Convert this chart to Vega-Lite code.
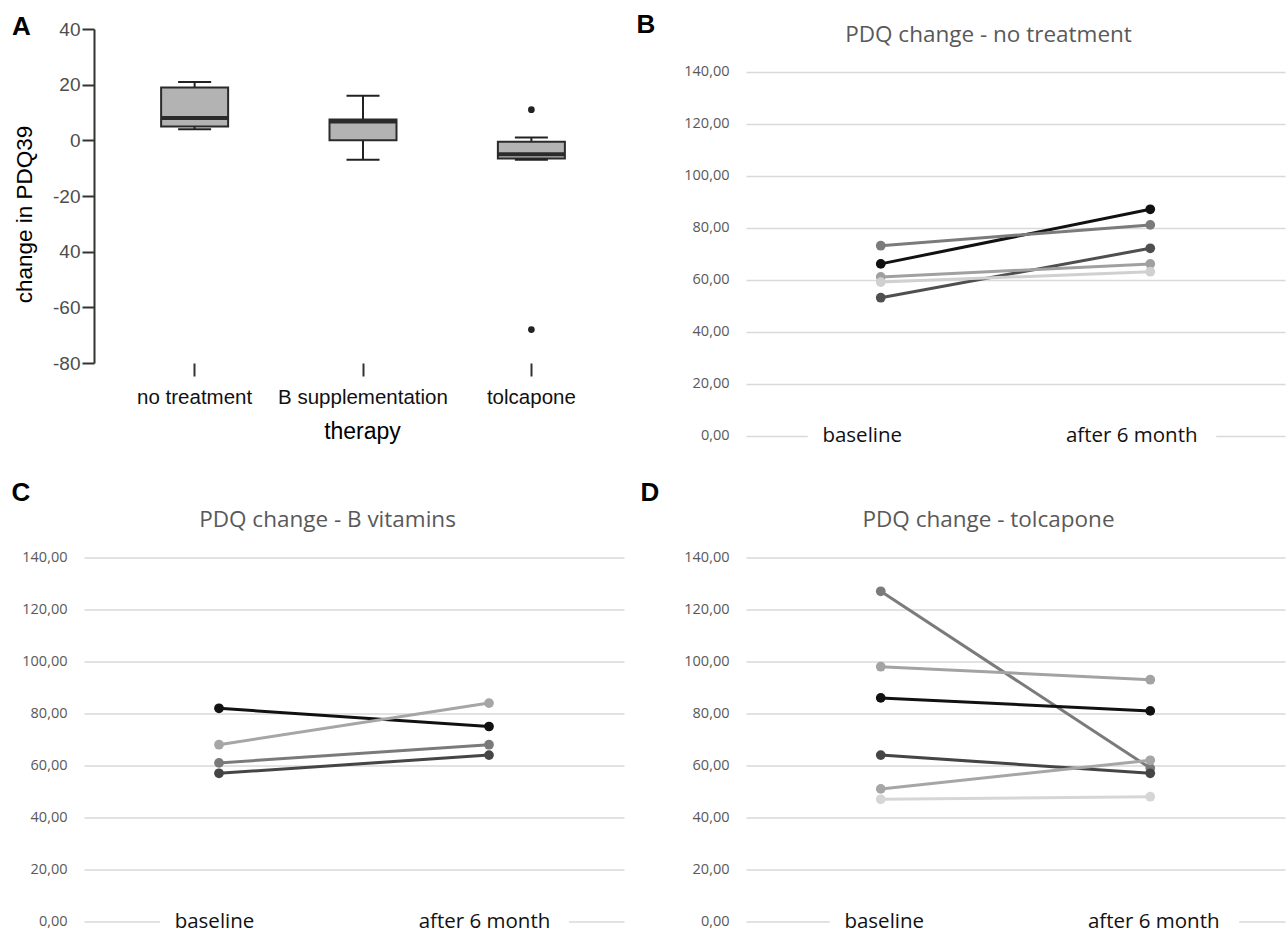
{
  "$schema": "https://vega.github.io/schema/vega-lite/v6.json",
  "background": "white",
  "padding": {"left": 11, "top": 11, "right": 2, "bottom": 2},
  "bounds": "flush",
  "columns": 2,
  "spacing": {"row": 121.5, "column": 104},
  "config": {"view": {"stroke": null}, "axis": {"labelOverlap": false}},
  "resolve": {"scale": {"x": "independent", "y": "independent", "color": "independent"}},
  "datasets": {
    "box": [
      {"therapy": "no treatment", "lower": 4, "q1": 5, "median": 8, "q3": 19, "upper": 21},
      {"therapy": "B supplementation", "lower": -7, "q1": 0, "median": 6.8, "q3": 7.5, "upper": 16},
      {"therapy": "tolcapone", "lower": -7, "q1": -6.5, "median": -5, "q3": -0.5, "upper": 1}
    ],
    "outliers": [
      {"therapy": "tolcapone", "value": 11},
      {"therapy": "tolcapone", "value": -68}
    ],
    "noTreatment": [
      {"patient": "nt1", "time": "baseline", "value": 66}, {"patient": "nt1", "time": "after 6 month", "value": 87},
      {"patient": "nt2", "time": "baseline", "value": 73}, {"patient": "nt2", "time": "after 6 month", "value": 81},
      {"patient": "nt3", "time": "baseline", "value": 53}, {"patient": "nt3", "time": "after 6 month", "value": 72},
      {"patient": "nt4", "time": "baseline", "value": 61}, {"patient": "nt4", "time": "after 6 month", "value": 66},
      {"patient": "nt5", "time": "baseline", "value": 59}, {"patient": "nt5", "time": "after 6 month", "value": 63}
    ],
    "bVitamins": [
      {"patient": "bv1", "time": "baseline", "value": 82}, {"patient": "bv1", "time": "after 6 month", "value": 75},
      {"patient": "bv2", "time": "baseline", "value": 68}, {"patient": "bv2", "time": "after 6 month", "value": 84},
      {"patient": "bv3", "time": "baseline", "value": 61}, {"patient": "bv3", "time": "after 6 month", "value": 68},
      {"patient": "bv4", "time": "baseline", "value": 57}, {"patient": "bv4", "time": "after 6 month", "value": 64}
    ],
    "tolcapone": [
      {"patient": "tc1", "time": "baseline", "value": 127}, {"patient": "tc1", "time": "after 6 month", "value": 59},
      {"patient": "tc2", "time": "baseline", "value": 98}, {"patient": "tc2", "time": "after 6 month", "value": 93},
      {"patient": "tc3", "time": "baseline", "value": 86}, {"patient": "tc3", "time": "after 6 month", "value": 81},
      {"patient": "tc4", "time": "baseline", "value": 64}, {"patient": "tc4", "time": "after 6 month", "value": 57},
      {"patient": "tc5", "time": "baseline", "value": 51}, {"patient": "tc5", "time": "after 6 month", "value": 62},
      {"patient": "tc6", "time": "baseline", "value": 47}, {"patient": "tc6", "time": "after 6 month", "value": 48}
    ]
  },
  "concat": [
    {
      "width": 558,
      "height": 334,
      "title": {"text": "A", "anchor": "start", "frame": "group", "dx": -72, "offset": -41, "baseline": "alphabetic", "font": "Liberation Sans", "fontSize": 26, "fontWeight": "bold", "color": "#000"},
      "encoding": {
        "x": {
          "field": "therapy", "type": "nominal",
          "sort": ["no treatment", "B supplementation", "tolcapone"],
          "scale": {"type": "band", "domain": ["no treatment", "B supplementation", "tolcapone"], "paddingInner": 0, "paddingOuter": 0.157},
          "axis": {
            "title": "therapy", "titleX": 278, "titleY": 68, "titleAlign": "center", "titleBaseline": "middle",
            "titleFont": "Liberation Sans", "titleFontSize": 23, "titleFontWeight": "normal", "titleColor": "#000",
            "domain": false, "ticks": true, "tickSize": 13, "tickWidth": 2, "tickColor": "#333",
            "labelPadding": 21, "labelBaseline": "middle", "labelAngle": 0,
            "labelFont": "Liberation Sans", "labelFontSize": 20.5, "labelColor": "#111"
          }
        }
      },
      "layer": [
        {
          "data": {"name": "box"},
          "mark": {"type": "rule", "color": "#222", "strokeWidth": 2},
          "encoding": {
            "y": {
              "field": "lower", "type": "quantitative", "title": "change in PDQ39",
              "scale": {"domain": [-80, 40], "nice": false, "zero": false},
              "axis": {
                "title": "change in PDQ39", "titleX": -70, "titleY": 185, "titleAngle": 270, "titleAlign": "center", "titleBaseline": "middle",
                "titleFont": "Liberation Sans", "titleFontSize": 22.5, "titleFontWeight": "normal", "titleColor": "#000",
                "offset": -10, "grid": false,
                "domainColor": "#333", "domainWidth": 2, "tickColor": "#333", "tickWidth": 2, "tickSize": 12,
                "labelPadding": 2, "labelFont": "Liberation Sans", "labelFontSize": 19, "labelColor": "#4d4d4d",
                "values": [-80, -60, -40, -20, 0, 20, 40],
                "labelExpr": "datum.value == -40 ? '40' : replace(datum.label, '\u2212', '-')"
              }
            },
            "y2": {"field": "upper"}
          }
        },
        {
          "data": {"name": "box"},
          "mark": {"type": "bar", "size": 67, "fill": "#b3b3b3", "stroke": "#2b2b2b", "strokeWidth": 2},
          "encoding": {
            "y": {"field": "q1", "type": "quantitative", "title": "change in PDQ39"},
            "y2": {"field": "q3"}
          }
        },
        {
          "data": {"name": "box"},
          "mark": {"type": "tick", "orient": "horizontal", "size": 67, "thickness": 4, "color": "#2b2b2b", "opacity": 1},
          "encoding": {"y": {"field": "median", "type": "quantitative", "title": "change in PDQ39"}}
        },
        {
          "data": {"name": "box"},
          "mark": {"type": "tick", "orient": "horizontal", "size": 33, "thickness": 2, "color": "#222", "opacity": 1},
          "encoding": {"y": {"field": "lower", "type": "quantitative", "title": "change in PDQ39"}}
        },
        {
          "data": {"name": "box"},
          "mark": {"type": "tick", "orient": "horizontal", "size": 33, "thickness": 2, "color": "#222", "opacity": 1},
          "encoding": {"y": {"field": "upper", "type": "quantitative", "title": "change in PDQ39"}}
        },
        {
          "data": {"name": "outliers"},
          "mark": {"type": "point", "filled": true, "size": 45, "color": "#222", "opacity": 1},
          "encoding": {"y": {"field": "value", "type": "quantitative", "title": "change in PDQ39"}}
        }
      ]
    },
    {
      "width": 539,
      "height": 406.5,
      "layer": [
        {
          "data": {"name": "noTreatment"},
          "mark": {"type": "line", "strokeWidth": 3, "point": {"filled": true, "size": 95, "opacity": 1}},
          "encoding": {
            "x": {
              "field": "time", "type": "nominal",
              "scale": {"type": "point", "domain": ["baseline", "after 6 month"], "padding": 0.5},
              "axis": {
                "title": "PDQ change - no treatment", "titleX": 242, "titleY": -401.5, "titleAlign": "center", "titleBaseline": "middle", "titleAngle": 0,
                "titleFont": "Open Sans", "titleFontSize": 22.5, "titleFontWeight": "normal", "titleColor": "#595959",
                "domain": false, "ticks": false, "tickSize": 0, "labelPadding": 0, "labelBaseline": "middle", "labelOffset": -19, "labelAngle": 0,
                "labelFont": "Open Sans", "labelFontSize": 20.5, "labelColor": "#111", "zindex": 1
              }
            },
            "y": {
              "field": "value", "type": "quantitative",
              "scale": {"domain": [0, 156.35], "nice": false, "zero": true},
              "axis": {
                "values": [0, 20, 40, 60, 80, 100, 120, 140], "grid": true, "gridColor": "#d9d9d9", "gridWidth": 1.5,
                "domain": false, "ticks": false, "tickSize": 0, "labelPadding": 17,
                "labelFont": "Open Sans", "labelFontSize": 14.5, "labelColor": "#595959",
                "labelExpr": "replace(format(datum.value, '.2f'), '.', ',')",
                "title": "B", "titleAngle": 0, "titleX": -110, "titleY": 3.6, "titleAlign": "left", "titleBaseline": "alphabetic",
                "titleFont": "Liberation Sans", "titleFontSize": 26, "titleFontWeight": "bold", "titleColor": "#000", "zindex": 0
              }
            },
            "color": {
              "field": "patient", "type": "nominal", "legend": null,
              "scale": {"domain": ["nt1", "nt2", "nt3", "nt4", "nt5"], "range": ["#111111", "#7b7b7b", "#4f4f4f", "#a0a0a0", "#d0d0d0"]}
            }
          }
        },
        {
          "data": {"values": [{}]},
          "mark": {"type": "rule", "color": "white", "strokeWidth": 6},
          "encoding": {"x": {"datum": "baseline"}, "x2": {"datum": "after 6 month"}, "y": {"datum": 0}}
        },
        {
          "data": {"values": [{}]},
          "mark": {"type": "tick", "orient": "horizontal", "color": "white", "size": 146, "thickness": 6, "opacity": 1},
          "encoding": {"x": {"datum": "baseline"}, "y": {"datum": 0}}
        },
        {
          "data": {"values": [{}]},
          "mark": {"type": "tick", "orient": "horizontal", "color": "white", "size": 132, "thickness": 6, "opacity": 1},
          "encoding": {"x": {"datum": "after 6 month"}, "y": {"datum": 0}}
        }
      ]
    },
    {
      "width": 540,
      "height": 364,
      "layer": [
        {
          "data": {"name": "bVitamins"},
          "mark": {"type": "line", "strokeWidth": 3, "point": {"filled": true, "size": 95, "opacity": 1}},
          "encoding": {
            "x": {
              "field": "time", "type": "nominal",
              "scale": {"type": "point", "domain": ["baseline", "after 6 month"], "padding": 0.5},
              "axis": {
                "title": "PDQ change - B vitamins", "titleX": 243, "titleY": -402, "titleAlign": "center", "titleBaseline": "middle", "titleAngle": 0,
                "titleFont": "Open Sans", "titleFontSize": 22.5, "titleFontWeight": "normal", "titleColor": "#595959",
                "domain": false, "ticks": false, "tickSize": 0, "labelPadding": 0, "labelBaseline": "middle", "labelOffset": -5, "labelAngle": 0,
                "labelFont": "Open Sans", "labelFontSize": 20.5, "labelColor": "#111", "zindex": 1
              }
            },
            "y": {
              "field": "value", "type": "quantitative",
              "scale": {"domain": [0, 140], "nice": false, "zero": true},
              "axis": {
                "values": [0, 20, 40, 60, 80, 100, 120, 140], "grid": true, "gridColor": "#d9d9d9", "gridWidth": 1.5,
                "domain": false, "ticks": false, "tickSize": 0, "labelPadding": 17,
                "labelFont": "Open Sans", "labelFontSize": 14.5, "labelColor": "#595959",
                "labelExpr": "replace(format(datum.value, '.2f'), '.', ',')",
                "title": "C", "titleAngle": 0, "titleX": -73, "titleY": -57, "titleAlign": "left", "titleBaseline": "alphabetic",
                "titleFont": "Liberation Sans", "titleFontSize": 26, "titleFontWeight": "bold", "titleColor": "#000", "zindex": 0
              }
            },
            "color": {
              "field": "patient", "type": "nominal", "legend": null,
              "scale": {"domain": ["bv1", "bv2", "bv3", "bv4"], "range": ["#111111", "#a6a6a6", "#7a7a7a", "#454545"]}
            }
          }
        },
        {
          "data": {"values": [{}]},
          "mark": {"type": "rule", "color": "white", "strokeWidth": 6},
          "encoding": {"x": {"datum": "baseline"}, "x2": {"datum": "after 6 month"}, "y": {"datum": 0}}
        },
        {
          "data": {"values": [{}]},
          "mark": {"type": "tick", "orient": "horizontal", "color": "white", "size": 118, "thickness": 6, "opacity": 1},
          "encoding": {"x": {"datum": "baseline"}, "y": {"datum": 0}}
        },
        {
          "data": {"values": [{}]},
          "mark": {"type": "tick", "orient": "horizontal", "color": "white", "size": 160, "thickness": 6, "opacity": 1},
          "encoding": {"x": {"datum": "after 6 month"}, "y": {"datum": 0}}
        }
      ]
    },
    {
      "width": 539,
      "height": 364,
      "layer": [
        {
          "data": {"name": "tolcapone"},
          "mark": {"type": "line", "strokeWidth": 3, "point": {"filled": true, "size": 95, "opacity": 1}},
          "encoding": {
            "x": {
              "field": "time", "type": "nominal",
              "scale": {"type": "point", "domain": ["baseline", "after 6 month"], "padding": 0.5},
              "axis": {
                "title": "PDQ change - tolcapone", "titleX": 242, "titleY": -402, "titleAlign": "center", "titleBaseline": "middle", "titleAngle": 0,
                "titleFont": "Open Sans", "titleFontSize": 22.5, "titleFontWeight": "normal", "titleColor": "#595959",
                "domain": false, "ticks": false, "tickSize": 0, "labelPadding": 0, "labelBaseline": "middle", "labelOffset": 3, "labelAngle": 0,
                "labelFont": "Open Sans", "labelFontSize": 20.5, "labelColor": "#111", "zindex": 1
              }
            },
            "y": {
              "field": "value", "type": "quantitative",
              "scale": {"domain": [0, 140], "nice": false, "zero": true},
              "axis": {
                "values": [0, 20, 40, 60, 80, 100, 120, 140], "grid": true, "gridColor": "#d9d9d9", "gridWidth": 1.5,
                "domain": false, "ticks": false, "tickSize": 0, "labelPadding": 17,
                "labelFont": "Open Sans", "labelFontSize": 14.5, "labelColor": "#595959",
                "labelExpr": "replace(format(datum.value, '.2f'), '.', ',')",
                "title": "D", "titleAngle": 0, "titleX": -106, "titleY": -57, "titleAlign": "left", "titleBaseline": "alphabetic",
                "titleFont": "Liberation Sans", "titleFontSize": 26, "titleFontWeight": "bold", "titleColor": "#000", "zindex": 0
              }
            },
            "color": {
              "field": "patient", "type": "nominal", "legend": null,
              "scale": {"domain": ["tc1", "tc2", "tc3", "tc4", "tc5", "tc6"], "range": ["#7b7b7b", "#a3a3a3", "#111111", "#454545", "#a6a6a6", "#d6d6d6"]}
            }
          }
        },
        {
          "data": {"values": [{}]},
          "mark": {"type": "rule", "color": "white", "strokeWidth": 6},
          "encoding": {"x": {"datum": "baseline"}, "x2": {"datum": "after 6 month"}, "y": {"datum": 0}}
        },
        {
          "data": {"values": [{}]},
          "mark": {"type": "tick", "orient": "horizontal", "color": "white", "size": 102, "thickness": 6, "opacity": 1},
          "encoding": {"x": {"datum": "baseline"}, "y": {"datum": 0}}
        },
        {
          "data": {"values": [{}]},
          "mark": {"type": "tick", "orient": "horizontal", "color": "white", "size": 178, "thickness": 6, "opacity": 1},
          "encoding": {"x": {"datum": "after 6 month"}, "y": {"datum": 0}}
        }
      ]
    }
  ]
}
